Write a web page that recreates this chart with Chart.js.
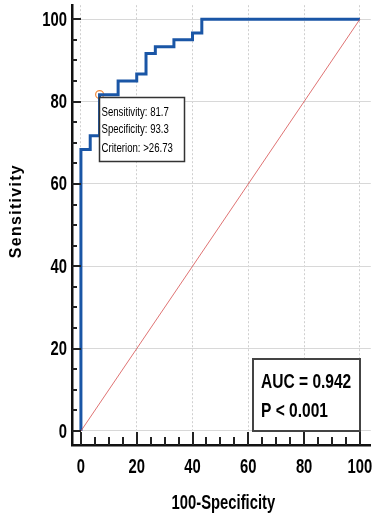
<!DOCTYPE html>
<html>
<head>
<meta charset="utf-8">
<script src="https://cdn.jsdelivr.net/npm/chart.js@4"></script>
<style>
  body { margin: 0; background: #fff; }
  #wrap { width: 376px; height: 518px; }
</style>
</head>
<body>
<div id="wrap"><canvas id="chart" width="376" height="518"></canvas></div>
<script>
// ROC curve vertices (100-specificity, sensitivity)
const fpr = [0, 0, 3.33, 6.67, 13.33, 20, 23.33, 26.67, 33.33, 40, 43.33, 100];
const tpr = [0, 68.33, 71.67, 81.67, 85, 86.67, 91.67, 93.33, 95, 96.67, 100, 100];
// chance line
const diagX = [0, 100];
const diagY = [0, 100];
// optimal criterion point
const critSens = 81.7;
const critSpec = 93.3;
const critLabel = ">26.73";
const aucText = "AUC = 0.942";
const pText = "P < 0.001";
// axis ticks
const xTicks = [0, 20, 40, 60, 80, 100];
const yTicks = [0, 20, 40, 60, 80, 100];
const minorStep = 5;

const SANS = "'Liberation Sans', Arial, sans-serif";
const SQUEEZE = 0.74; // the original uses a narrow face

// draw text squeezed horizontally (no narrow font installed)
function narrowText(ctx, text, x, y, size, bold, align) {
  ctx.save();
  ctx.font = (bold ? 'bold ' : '') + size + 'px ' + SANS;
  ctx.textBaseline = 'middle';
  const w = ctx.measureText(text).width * SQUEEZE;
  let left = x;
  if (align === 'center') left = x - w / 2;
  if (align === 'right') left = x - w;
  ctx.translate(left, y);
  ctx.scale(SQUEEZE, 1);
  ctx.textAlign = 'left';
  ctx.fillText(text, 0, 0);
  ctx.restore();
}

// inward tick marks, labels, titles and the two text boxes
const extras = {
  id: 'extras',
  afterDatasetsDraw(chart) {
    const { ctx, scales: { x, y } } = chart;
    ctx.save();

    // criterion box, hung under the marked point
    const px = x.getPixelForValue(100 - critSpec);
    const py = y.getPixelForValue(critSens);
    const bx = Math.round(px) - 0.5, by = Math.round(py) + 2.5, bw = 85, bh = 64;
    ctx.fillStyle = '#fff';
    ctx.fillRect(bx, by, bw, bh);
    ctx.strokeStyle = '#333';
    ctx.lineWidth = 1.5;
    ctx.strokeRect(bx, by, bw, bh);
    ctx.fillStyle = '#000';
    narrowText(ctx, 'Sensitivity: ' + critSens, bx + 2, by + 15, 13, false, 'left');
    narrowText(ctx, 'Specificity: ' + critSpec, bx + 2, by + 32, 13, false, 'left');
    narrowText(ctx, 'Criterion: ' + critLabel, bx + 2, by + 51, 13, false, 'left');

    // AUC box in the lower right corner
    const ax2 = Math.round(x.getPixelForValue(100)), ay2 = Math.round(y.getPixelForValue(0));
    const aw = 107, ah = 72;
    ctx.fillStyle = '#fff';
    ctx.fillRect(ax2 - aw, ay2 - ah, aw, ah);
    ctx.strokeStyle = '#444';
    ctx.lineWidth = 2;
    ctx.strokeRect(ax2 - aw, ay2 - ah, aw, ah);
    ctx.fillStyle = '#000';
    narrowText(ctx, aucText, ax2 - aw + 8, ay2 - ah + 23, 21, true, 'left');
    narrowText(ctx, pText, ax2 - aw + 8, ay2 - ah + 52, 21, true, 'left');

    ctx.restore();
  },
  afterDraw(chart) {
    const { ctx, chartArea, scales: { x, y } } = chart;
    ctx.save();
    ctx.strokeStyle = '#222';
    ctx.lineWidth = 2;
    // x ticks pointing up into the plot
    for (let v = 0; v <= 100; v += minorStep) {
      const major = xTicks.includes(v);
      const p = Math.round(x.getPixelForValue(v));
      ctx.beginPath();
      ctx.moveTo(p, chartArea.bottom);
      ctx.lineTo(p, chartArea.bottom - (major ? 13 : 8));
      ctx.stroke();
    }
    // y ticks pointing right into the plot
    for (let v = 0; v <= 100; v += minorStep) {
      const major = yTicks.includes(v);
      const p = Math.round(y.getPixelForValue(v));
      ctx.beginPath();
      ctx.moveTo(chartArea.left, p);
      ctx.lineTo(chartArea.left + (major ? 9 : 5), p);
      ctx.stroke();
    }

    // tick labels
    ctx.fillStyle = '#000';
    xTicks.forEach(v => narrowText(ctx, String(v), x.getPixelForValue(v), chartArea.bottom + 22, 20, true, 'center'));
    yTicks.forEach(v => narrowText(ctx, String(v), chartArea.left - 5, y.getPixelForValue(v) + 1, 20, true, 'right'));

    // x axis title
    narrowText(ctx, '100-Specificity', (chartArea.left + chartArea.right) / 2 + 2, chartArea.bottom + 58, 20, true, 'center');

    // y axis title
    ctx.translate(17, (chartArea.top + chartArea.bottom) / 2 - 14);
    ctx.rotate(-Math.PI / 2);
    ctx.font = "bold 16px " + SANS;
    ctx.letterSpacing = '1.3px';
    ctx.textAlign = 'center';
    ctx.textBaseline = 'middle';
    ctx.fillText('Sensitivity', 0, 0);
    ctx.restore();
  }
};

const ctx = document.getElementById('chart').getContext('2d');
new Chart(ctx, {
  type: 'scatter',
  data: {
    datasets: [
      {
        type: 'line',
        data: diagX.map((v, i) => ({ x: v, y: diagY[i] })),
        borderColor: 'rgba(215, 80, 80, 0.8)',
        borderWidth: 1,
        pointRadius: 0,
        fill: false
      },
      {
        type: 'line',
        data: fpr.map((v, i) => ({ x: v, y: tpr[i] })),
        borderColor: '#1a56a6',
        borderWidth: 3,
        stepped: 'before',
        pointRadius: 0,
        fill: false
      },
      {
        data: [{ x: 100 - critSpec, y: critSens }],
        pointRadius: 4,
        pointBorderWidth: 1.2,
        pointBorderColor: '#f08a3c',
        pointBackgroundColor: 'rgba(255,255,255,0)'
      }
    ]
  },
  options: {
    responsive: false,
    animation: false,
    layout: { padding: { top: 5, right: 1, left: 0, bottom: 0 } },
    plugins: { legend: { display: false }, tooltip: { enabled: false } },
    scales: {
      x: {
        type: 'linear',
        min: -3.2,
        max: 103.9,
        afterBuildTicks: s => { s.ticks = xTicks.map(v => ({ value: v })); },
        afterFit: s => { s.height = 73; },
        grid: { color: '#cfcfcf', lineWidth: 1, drawTicks: false },
        border: { color: '#111', width: 2.5, dash: [2, 2] },
        ticks: { display: false }
      },
      y: {
        type: 'linear',
        min: -3.4,
        max: 103.4,
        afterBuildTicks: s => { s.ticks = yTicks.map(v => ({ value: v })); },
        afterFit: s => { s.width = 72; },
        grid: { color: '#d8d8d8', lineWidth: 1, drawTicks: false },
        border: { color: '#111', width: 2.5 },
        ticks: { display: false }
      }
    }
  },
  plugins: [extras]
});
</script>
</body>
</html>
